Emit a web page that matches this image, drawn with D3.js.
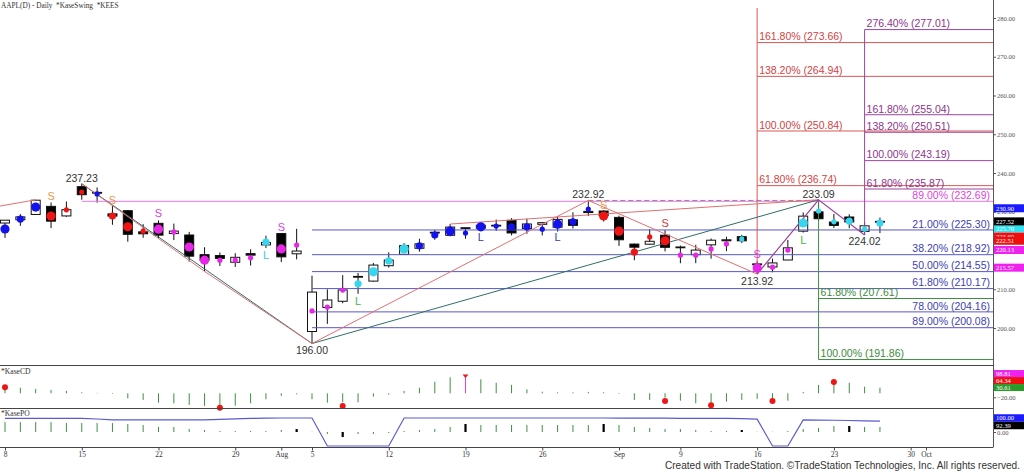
<!DOCTYPE html>
<html><head><meta charset="utf-8">
<script src="https://cdn.jsdelivr.net/npm/d3@7"></script>
<style>
body{margin:0;background:#fff}
svg{display:block}
text{font-family:"Liberation Sans",Arial,sans-serif}
.serif{font-family:"Liberation Serif","Times New Roman",serif}
</style>
</head><body>
<svg id="c" width="1024" height="473"></svg>
<script>
// ---------- DATA ----------
const preDates = ["07-05"];
const barDates = ["07-08","07-09","07-10","07-11","07-12","07-15","07-16","07-17","07-18","07-19",
"07-22","07-23","07-24","07-25","07-26","07-29","07-30","07-31","08-01","08-02",
"08-05","08-06","08-07","08-08","08-09","08-12","08-13","08-14","08-15","08-16",
"08-19","08-20","08-21","08-22","08-23","08-26","08-27","08-28","08-29","08-30",
"09-03","09-04","09-05","09-06","09-09","09-10","09-11","09-12","09-13",
"09-16","09-17","09-18","09-19","09-20","09-23","09-24","09-25","09-26"];
const futureDates = ["09-27","09-30","10-01"];

const open  = [227.09,227.93,229.30,231.39,228.92, 236.48,235.00,229.45,230.28,224.82, 227.01,224.37,224.00,218.93,218.70, 216.96,219.19,221.44,224.37,219.15, 199.09,205.30,206.90,213.11,212.10, 216.07,219.01,220.57,224.60,223.92, 225.72,225.77,226.52,227.79,225.66, 226.76,226.00,227.92,230.10,230.19, 228.55,221.66,221.63,223.95, 220.82,218.92,221.46,222.50,223.58, 216.54,215.75,217.55,224.99,229.97, 227.34,228.65,224.93,227.30];
const high  = [227.85,229.40,233.08,232.39,232.64, 237.23,236.27,231.46,230.44,226.80, 227.78,226.94,224.80,220.85,219.49, 219.30,220.33,223.82,224.48,225.60, 213.50,209.99,213.64,214.20,216.78, 219.51,221.89,223.03,225.35,226.83, 225.99,227.17,227.98,228.34,228.22, 227.28,228.85,229.86,232.92,230.40, 229.00,221.78,225.48,225.24, 221.27,221.48,223.09,223.55,224.04, 217.22,217.90,222.71,229.82,233.09, 229.45,229.35,227.29,228.50];
const low   = [223.25,226.37,229.25,225.77,228.68, 233.09,232.33,226.64,222.27,223.28, 223.09,222.68,217.13,214.62,216.01, 215.75,216.12,220.63,217.02,217.71, 196.00,201.07,206.39,208.83,211.97, 215.60,219.01,219.70,222.76,223.65, 223.04,225.45,225.05,223.90,224.33, 223.89,224.89,225.68,228.88,227.48, 221.17,217.48,221.52,219.77, 216.71,216.73,217.89,219.82,221.91, 213.92,214.38,217.54,224.63,227.62, 225.81,225.73,224.02,224.50];
const close = [227.82,228.68,232.98,227.57,230.54, 234.40,234.82,228.88,224.18,224.31, 223.96,225.01,218.54,217.49,217.96, 218.24,218.80,222.08,218.36,219.86, 209.27,207.23,209.82,213.31,216.24, 217.53,221.27,221.72,224.72,226.05, 225.89,226.51,226.40,224.53,226.84, 227.18,228.03,226.49,229.79,229.00, 222.77,220.85,222.38,220.82, 220.91,220.11,222.66,222.77,222.50, 216.32,216.79,220.69,228.87,228.20, 226.47,227.37,226.37,227.52];

// KEES dots: value, state, strength
const dotVal = [225.55,228.1,231.2,228.9,230.5, 235.1,234.6,228.9,226.1,225.0, 225.5,224.8,220.9,217.5,217.5, 217.5,218.1,222.2,220.4,221.4, 204.4,205.4,209.8,211.4,214.5, 217.3,220.4,221.2,224.0,225.0, 224.5,226.1,226.3,226.1,226.1, 225.5,226.8,227.4,230.7,228.9, 225.0,219.6,223.5,222.5, 218.8,218.8,220.4,221.7,223.0, 215.5,215.7,220.1,227.1,230.2, 227.4,227.6,225.5,227.1];
const dotState = ["up","up","up","dn","dn", "dn","up","dn","dn","dn", "dnW","dnW","dnW","dnW","dnW", "dnW","dnW","upW","dnW","dnW", "dnW","dnW","dnW","upW","upW", "upW","upW","up","up","up", "up","up","up","up","up", "up","up","up","up","dn", "dn","dn","dn","dn", "dnW","dnW","dnW","dnW","upW", "dnW","dnW","dnW","upW","upW", "upW","upW","upW","upW"];
const dotStrength = [3,2,3,3,1, 1,1,2,3,1, 3,1,3,3,1, 1,1,2,3,1, 1,1,1,2,3, 2,3,2,2,3, 1,3,1,2,2, 1,3,2,1,3, 3,2,1,3, 1,1,1,1,1, 3,1,1,3,1, 1,2,1,2];

// KaseSwing signals
const sigDates = ["07-11","07-17","07-22","07-31","08-01","08-08","08-20","08-27","08-30","09-06","09-16","09-19"];
const sigText  = ["S","S","S","L","S","L","L","L","S","S","S","L"];
const sigKind  = ["orange","orange","magenta","cyan","magenta","green","navy","navy","orange","red","magenta","green"];
const sigVal   = [234.1,233.0,229.7,218.8,226.1,207.0,223.5,223.5,231.8,227.1,219.1,222.7];

// swing pivots
const pivotDates = ["07-15","08-05","08-29","09-20","09-16","09-25"];
const pivotVals  = [237.23,196.00,232.92,233.09,213.92,224.02];
const pivotSide  = ["hi","lo","hi","hi","lo","lo"];

const swingRed = [
  [["07-05",231.0],["07-10",233.08]],
  [["07-15",237.23],["07-25",214.62],["08-05",196.00],["08-29",232.92],["09-16",213.92]],
  [["08-16",226.83],["09-20",233.09]]
];
const swingTeal = [
  [["07-15",237.23],["08-05",196.00]],
  [["08-05",196.00],["09-20",233.09]]
];
const swingPurple = [["09-16",213.92],["09-20",233.09],["09-25",224.02]];
const dashedLevel = [["08-29",232.92],["09-20",232.92]];

// Fibonacci levels
const blueStart = "08-05";
const bluePct = ["21.00%","38.20%","50.00%","61.80%","78.00%","89.00%"];
const blueVal = [225.30,218.92,214.55,210.17,204.16,200.08];
const magStart = "07-15";
const magPct = ["89.00%"];
const magVal = [232.69];
const redStart = "09-16";
const redPct = ["161.80%","138.20%","100.00%","61.80%"];
const redVal = [273.66,264.94,250.84,236.74];
const purStart = "09-25";
const purPct = ["276.40%","161.80%","138.20%","100.00%","61.80%"];
const purVal = [277.01,255.04,250.51,243.19,235.87];
const grnStart = "09-20";
const grnPct = ["61.80%","100.00%"];
const grnVal = [207.61,191.86];

// price axis
const yTicks = [200,210,220,230,240,250,260,270,280];
const priceTags = [225.70,230.90,227.52,223.60,222.51,220.13,215.57];
const priceTagKind = ["cyan","blue","black","red","red","magenta","magenta"];

// KaseCD
const cdVals = [25,28,22,17,12, 5,2,-3,-25,-33, -47,-50,-58,-63,-62, -62,-50,-30,-13,-5, -30,-47,-45,-45,-17, -7,12,28,58,80, 87,70,53,42,20, 8,5,5,7,5, -3,-33,-33,-22, -37,-50,-50,-42,-33, -28,-25,-37,7,42, 53,53,33,28];
const cdPeakDate = "08-19";
const cdDotDates = ["07-08","07-26","08-07","09-06","09-11","09-17","09-23"];
const cdDotVals  = [30,-72,-63,-38,-60,-38,57];
const cdTags = [98.81,64.34,30.61];
const cdTagKind = ["magenta","red","green"];
const cdTicks = [-20];

// KasePO
const poLine = [98,98,98,98,98, 98,93,86,86,86, 86,86,86,87,90, 94,97,99,100,100, 100,-100,-100,-100,-100, -100,100,100,100,100, 100,100,100,100,100, 100,100,100,100,100, 99,99,99,99, 98,98,98,97,96, 92,-100,-100,86,85, 84,82,80,78];
const poHist = [71,71,71,71,64, 64,64,64,57,50, 36,36,21,14,7, 7,7,7,14,21, 2,-14,-36,-14,-14, -7,7,14,21,36, 57,50,50,50,50, 50,50,50,50,57, 50,36,29,21, 21,14,7,7,14, 2,2,7,21,29, 43,43,36,36];
const poPeakDates = ["08-02","08-07","08-19","08-30","09-13","09-24"];
const poTags = [100.00,92.39];
const poTagKind = ["blue","black"];
const poTicks = [0];

// x axis
const tickDates  = ["07-08","07-15","07-22","07-29","08-01","08-05","08-12","08-19","08-26","09-03","09-09","09-16","09-23","09-30","10-01"];
const tickLabels = ["8","15","22","29","Aug","5","12","19","26","Sep","9","16","23","30","Oct"];

// ---------- STYLE ----------
const dotColor = {up:"#1212ee", upW:"#38d6ee", dn:"#ee1515", dnW:"#e826e8"};
const dotR = d3.scaleOrdinal().domain([1,2,3]).range([2.6,3.6,4.6]);
const sigColor = {orange:"#e89a48", magenta:"#d844d8", cyan:"#36ccdc", green:"#44b844", navy:"#3b3ba8", red:"#cc3a3a"};
const tagColor = {cyan:"#33e0f0", blue:"#1a1aff", black:"#000", red:"#ee1010", magenta:"#ee22ee", green:"#2a9a2a"};

// ---------- SCALES ----------
const axisDates = preDates.concat(barDates, futureDates);
const svg = d3.select("#c");
const AX = 993;
const x = d3.scalePoint().domain(axisDates).range([-10.35, 926]);
const y = d3.scaleLinear().domain([200,280]).range([328,18]);
const yCD = d3.scaleLinear().domain([0,100]).range([393.3,373.3]);
const yPO = d3.scaleLinear().domain([-100,100]).range([446,418]);

svg.append("rect").attr("width",1024).attr("height",473).attr("fill","#fff");
const defs = svg.append("defs");
defs.append("clipPath").attr("id","cm").append("rect").attr("x",0).attr("y",8).attr("width",AX).attr("height",357);

const g = svg.append("g").attr("clip-path","url(#cm)");

// candles
const bars = barDates.map((d,i)=>({d,o:open[i],h:high[i],l:low[i],c:close[i]}));
g.selectAll(".wick").data(bars).join("line")
  .attr("x1",b=>x(b.d)).attr("x2",b=>x(b.d))
  .attr("y1",b=>y(b.h)).attr("y2",b=>y(b.l))
  .attr("stroke","#111").attr("stroke-width",1);
g.selectAll(".body").data(bars).join("rect")
  .attr("x",b=>x(b.d)-4.5).attr("width",9)
  .attr("y",b=>y(Math.max(b.o,b.c)))
  .attr("height",b=>Math.max(0.8, y(Math.min(b.o,b.c))-y(Math.max(b.o,b.c))))
  .attr("fill",b=>b.c>=b.o?"#fff":"#000")
  .attr("stroke","#111").attr("stroke-width",1);

// fib horizontal lines
function hlines(start, vals, color){
  g.selectAll(null).data(vals).join("line")
    .attr("x1",x(start)).attr("x2",AX)
    .attr("y1",v=>y(v)).attr("y2",v=>y(v))
    .attr("stroke",color).attr("stroke-width",1);
}
hlines(blueStart, blueVal, "#5858c8");
hlines(magStart, magVal, "#ee78ee");
hlines(redStart, redVal, "#dd5656");
hlines(purStart, purVal, "#9c44a0");
hlines(grnStart, grnVal, "#3f8f3f");
// verticals
g.append("line").attr("x1",x(redStart)).attr("x2",x(redStart)).attr("y1",8).attr("y2",y(213.92)).attr("stroke","#dd5656");
g.append("line").attr("x1",x(purStart)).attr("x2",x(purStart)).attr("y1",y(purVal[0])).attr("y2",y(224.02)).attr("stroke","#9c44a0");
g.append("line").attr("x1",x(grnStart)).attr("x2",x(grnStart)).attr("y1",y(233.09)).attr("y2",y(grnVal[1])).attr("stroke","#3f8f3f");

// swing lines
const ln = d3.line().x(p=>x(p[0])).y(p=>y(p[1]));
g.append("path").attr("d",ln(dashedLevel)).attr("fill","none").attr("stroke","#8a8a8a").attr("stroke-dasharray","5,3");
swingTeal.forEach(s=>g.append("path").attr("d",ln(s)).attr("fill","none").attr("stroke","#2f6e6a").attr("stroke-width",1));
swingRed.forEach(s=>g.append("path").attr("d",ln(s)).attr("fill","none").attr("stroke","#e07070").attr("stroke-width",1));
g.append("path").attr("d",ln(swingPurple)).attr("fill","none").attr("stroke","#9c44a0").attr("stroke-width",1.2);

// dots
g.selectAll(".dot").data(barDates).join("circle")
  .attr("cx",d=>x(d)).attr("cy",(d,i)=>y(dotVal[i]))
  .attr("r",(d,i)=>dotR(dotStrength[i]))
  .attr("fill",(d,i)=>dotColor[dotState[i]]);

// signals
g.selectAll(".sig").data(sigDates).join("text")
  .attr("x",d=>x(d)).attr("y",(d,i)=>y(sigVal[i])+4)
  .attr("text-anchor","middle").attr("font-size",11)
  .attr("fill",(d,i)=>sigColor[sigKind[i]]).text((d,i)=>sigText[i]);

// pivot labels
g.selectAll(".piv").data(pivotDates).join("text")
  .attr("x",d=>x(d)).attr("y",(d,i)=>pivotSide[i]==="hi"? y(pivotVals[i])-2 : y(pivotVals[i])+10.5)
  .attr("text-anchor","middle").attr("font-size",10.5).attr("fill","#333")
  .text((d,i)=>pivotVals[i].toFixed(2));

// fib labels
function flabels(pcts, vals, color, xpos, anchor){
  g.selectAll(null).data(vals).join("text")
    .attr("x",xpos).attr("y",v=>y(v)-2.2)
    .attr("text-anchor",anchor).attr("font-size",10.5).attr("fill",color)
    .text((v,i)=>pcts[i]+" ("+v.toFixed(2)+")");
}
flabels(bluePct, blueVal, "#3e3eb0", 990, "end");
flabels(magPct, magVal, "#dd44dd", 990, "end");
flabels(redPct, redVal, "#d04444", x(redStart)+2, "start");
flabels(purPct, purVal, "#8e338e", x(purStart)+2, "start");
flabels(grnPct, grnVal, "#3b8b3b", x(grnStart)+2, "start");

// ---------- INDICATOR PANELS ----------
const gi = svg.append("g");
// KaseCD histogram
gi.selectAll(".cd").data(barDates).join("line")
  .attr("x1",d=>x(d)).attr("x2",d=>x(d))
  .attr("y1",yCD(0)).attr("y2",(d,i)=>yCD(cdVals[i]))
  .attr("stroke",d=>d===cdPeakDate?"#d845d8":"#3f8f3f").attr("stroke-width",1);
{
  const i = barDates.indexOf(cdPeakDate), px = x(cdPeakDate), py = yCD(cdVals[i]);
  gi.append("path").attr("d",`M${px-3},${py-1.5}L${px+3},${py-1.5}L${px},${py+2}Z`).attr("fill","#ee1515");
}
gi.selectAll(".cdd").data(cdDotDates).join("circle")
  .attr("cx",d=>x(d)).attr("cy",(d,i)=>yCD(cdDotVals[i])).attr("r",3).attr("fill","#ee1515");

// KasePO histogram
gi.selectAll(".po").data(barDates).join("line")
  .attr("x1",d=>x(d)).attr("x2",d=>x(d))
  .attr("y1",yPO(0)).attr("y2",(d,i)=>yPO(poHist[i]))
  .attr("stroke",d=>poPeakDates.includes(d)?"#000":"#3f8f3f")
  .attr("stroke-width",d=>poPeakDates.includes(d)?2.2:1);
gi.append("path").datum(barDates)
  .attr("d",d3.line().x(d=>x(d)).y((d,i)=>yPO(poLine[i])))
  .attr("fill","none").attr("stroke","#5a5ad0").attr("stroke-width",1.2);

// panel borders
[365.5,408.5,447.5].forEach(v=>svg.append("line").attr("x1",0).attr("x2",AX).attr("y1",v).attr("y2",v).attr("stroke","#444").attr("stroke-width",1));
svg.append("line").attr("x1",AX+0.5).attr("x2",AX+0.5).attr("y1",0).attr("y2",447.5).attr("stroke","#555");

// titles
svg.append("text").attr("class","serif").attr("x",1).attr("y",8).attr("font-size",7.3).attr("fill","#333").text("AAPL(D) - Daily\u00a0 *KaseSwing\u00a0 *KEES");
svg.append("text").attr("class","serif").attr("x",1).attr("y",373.5).attr("font-size",7.6).attr("fill","#333").text("*KaseCD");
svg.append("text").attr("class","serif").attr("x",1).attr("y",415.5).attr("font-size",7.6).attr("fill","#333").text("*KasePO");

// price axis
const ya = svg.append("g").attr("transform",`translate(${AX},0)`)
  .call(d3.axisRight(y).tickValues(yTicks).tickFormat(d3.format(".2f")).tickSize(3).tickPadding(1));
ya.select(".domain").remove();
ya.selectAll("line").attr("stroke","#555");
ya.selectAll("text").attr("font-size",6.6).attr("fill","#555").attr("class","serif");

// CD / PO axis ticks
const cda = svg.append("g").attr("transform",`translate(${AX},0)`)
  .call(d3.axisRight(yCD).tickValues(cdTicks).tickFormat(d3.format(".2f")).tickSize(3).tickPadding(1));
cda.select(".domain").remove();
cda.selectAll("line").attr("stroke","#555");
cda.selectAll("text").attr("font-size",6.6).attr("fill","#555").attr("class","serif");
const poa = svg.append("g").attr("transform",`translate(${AX},0)`)
  .call(d3.axisRight(yPO).tickValues(poTicks).tickFormat(d3.format(".2f")).tickSize(3).tickPadding(1));
poa.select(".domain").remove();
poa.selectAll("line").attr("stroke","#555");
poa.selectAll("text").attr("font-size",6.6).attr("fill","#555").attr("class","serif");

// tags
function tags(vals, kinds, scale, h, stack){
  let prev = -1e9;
  vals.forEach((v,i)=>{
    let yy = scale(v);
    if (stack && yy < prev + h) yy = prev + h;
    prev = yy;
    svg.append("rect").attr("x",AX+1).attr("y",yy-h/2).attr("width",1024-AX-1).attr("height",h).attr("fill",tagColor[kinds[i]]);
    svg.append("text").attr("x",AX+3).attr("y",yy+2.4).attr("font-size",6.6).attr("fill","#fff").attr("class","serif").text(v.toFixed(2));
  });
}
tags(priceTags, priceTagKind, y, 8, false);
tags(cdTags, cdTagKind, yCD, 7, true);
tags(poTags, poTagKind, yPO, 7.5, true);

// x axis
const xa = svg.append("g").attr("transform","translate(0,447.5)")
  .call(d3.axisBottom(x).tickValues(tickDates).tickFormat((d,i)=>tickLabels[i]).tickSize(3).tickPadding(1));
xa.select(".domain").remove();
xa.selectAll("line").attr("stroke","#444");
xa.selectAll("text").attr("font-size",7.4).attr("fill","#333").attr("class","serif");

// footer
svg.append("text").attr("x",1020).attr("y",469).attr("text-anchor","end").attr("font-size",10.6)
  .attr("fill","#333").attr("textLength",355).attr("lengthAdjust","spacingAndGlyphs")
  .text("Created with TradeStation. ©TradeStation Technologies, Inc. All rights reserved.");
</script>
</body></html>
